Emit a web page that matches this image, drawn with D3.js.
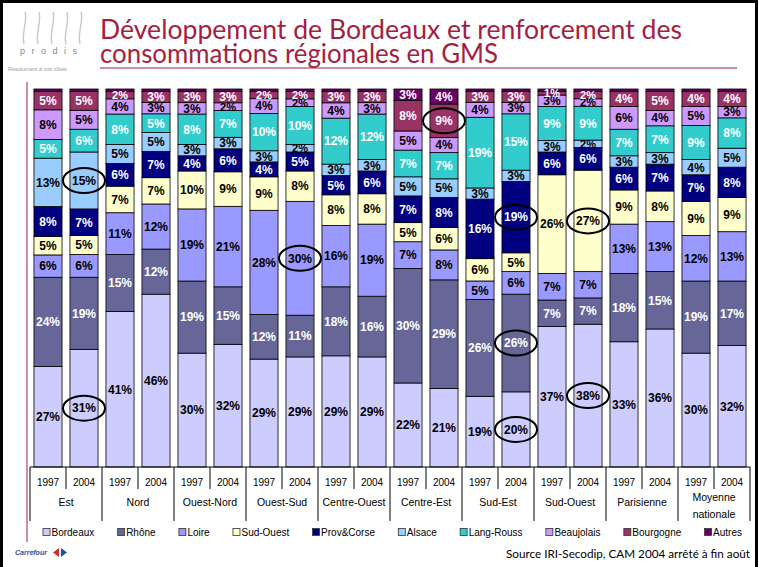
<!DOCTYPE html>
<html>
<head>
<meta charset="utf-8">
<script src="https://cdn.jsdelivr.net/npm/d3@7"></script>
<style>
body{margin:0;background:#fff;}
svg{display:block;font-family:"Liberation Sans",Arial,sans-serif;}
</style>
</head>
<body>
<div id="chartDiv"></div>
<script>
// categories
var regions = ["Est","Nord","Ouest-Nord","Ouest-Sud","Centre-Ouest","Centre-Est","Sud-Est","Sud-Ouest","Parisienne","Moyenne nationale"];
var years = ["1997","2004"];
var series = ["Bordeaux","Rhône","Loire","Sud-Ouest","Prov&Corse","Alsace","Lang-Rouss","Beaujolais","Bourgogne","Autres"];
var colors = ["#CCCCFF","#666699","#9999FF","#FFFFCC","#000080","#99CCFF","#33CCCC","#CC99FF","#993366","#660066"];
var darkText = ["Bordeaux","Loire","Sud-Ouest","Alsace","Beaujolais"];

// shares in % per bar (region x year, in order)
var bordeaux   = [27,31,41,46,30,32,29,29,29,29,22,21,19,20,37,38,33,36,30,32];
var rhone      = [24,19,15,12,19,15,12,11,18,16,30,29,26,26,7,7,18,15,19,17];
var loire      = [6,6,11,12,19,21,28,30,16,19,7,8,5,6,7,7,13,13,12,13];
var sudOuest   = [5,5,7,7,10,9,9,8,8,8,5,6,6,5,26,27,9,8,9,9];
var provCorse  = [8,7,6,7,4,6,4,5,5,6,7,8,16,19,6,6,6,7,7,8];
var alsace     = [13,15,5,5,3,3,3,2,3,3,5,5,3,3,3,2,3,3,4,5];
var langRouss  = [5,6,8,5,8,7,10,10,12,12,7,7,19,15,9,9,7,7,9,8];
var beaujolais = [8,5,4,3,3,2,4,2,4,3,5,4,4,3,3,2,6,4,5,3];
var bourgogne  = [5,5,2,3,3,3,2,2,3,3,8,9,3,3,1,2,4,5,4,4];
var autres     = [0.6,0.6,0.6,0.6,0.6,0.6,0.6,0.6,0.6,0.6,3,4,0.6,0.6,0.6,0.6,0.6,0.6,0.6,0.6];

// circled values: bar index + series
var highlights = [[1,"Alsace"],[1,"Bordeaux"],[7,"Loire"],[11,"Bourgogne"],[13,"Prov&Corse"],[13,"Rhône"],[13,"Bordeaux"],[15,"Sud-Ouest"],[15,"Bordeaux"]];

var swidth = 759, sheight = 567;
var red = "#A51E40";

var svg = d3.select("#chartDiv")
    .append("svg")
    .attr("width", swidth)
    .attr("height", sheight);

// slide frame
svg.append("rect")
    .attr("x", 1.5).attr("y", 1.5)
    .attr("width", 755).attr("height", 572)
    .attr("fill", "none").attr("stroke", "#000").attr("stroke-width", 3);

// prodis logo
var logo = svg.append("g").attr("fill", "none").attr("stroke", "#c8c8c8").attr("stroke-width", 1.4);
[24, 38, 52, 66, 80].forEach(function(lx){
    logo.append("path").attr("d", "M" + lx + ",44 C" + (lx - 3) + ",32 " + (lx + 4) + ",22 " + (lx + 1) + ",12");
});
svg.append("text").attr("x", 20).attr("y", 54)
    .attr("font-size", 9).attr("fill", "#888").attr("letter-spacing", 6.5)
    .text("prodis");
svg.append("text").attr("x", 8).attr("y", 71)
    .attr("font-size", 5.5).attr("fill", "#999")
    .text("Résolument à vos côtés");

// title
var title = svg.append("g")
    .attr("font-family", "Lato, 'DejaVu Sans', sans-serif")
    .attr("font-size", 26)
    .attr("fill", red);
title.append("text").attr("x", 100).attr("y", 39)
    .attr("textLength", 582).attr("lengthAdjust", "spacingAndGlyphs")
    .text("Développement de Bordeaux et renforcement des");
title.append("text").attr("x", 100).attr("y", 63)
    .attr("textLength", 398).attr("lengthAdjust", "spacingAndGlyphs")
    .text("consommations régionales en GMS");
svg.append("line").attr("x1", 100).attr("x2", 737).attr("y1", 68).attr("y2", 68)
    .attr("stroke", red).attr("stroke-width", 1.2);
svg.append("line").attr("x1", 27).attr("x2", 27).attr("y1", 82).attr("y2", 542)
    .attr("stroke", red).attr("stroke-width", 1);

// data rows
var valueLists = [bordeaux, rhone, loire, sudOuest, provCorse, alsace, langRouss, beaujolais, bourgogne, autres];
var bars = [];
regions.forEach(function(r){
    years.forEach(function(yr){
        bars.push({id: r + "|" + yr, region: r, year: yr});
    });
});
bars.forEach(function(b, i){
    series.forEach(function(s, j){ b[s] = valueLists[j][i]; });
});

var layers = d3.stack().keys(series).offset(d3.stackOffsetExpand)(bars);

var x = d3.scaleBand()
    .domain(bars.map(function(d){ return d.id; }))
    .range([30, 750])
    .paddingInner(0.22)
    .paddingOuter(0.11);
var y = d3.scaleLinear().domain([0, 1]).range([467, 89]);
var color = d3.scaleOrdinal().domain(series).range(colors);

var g = svg.append("g");
g.selectAll(".layer")
    .data(layers)
    .enter().append("g")
    .attr("class", "layer")
    .attr("fill", function(d){ return color(d.key); })
    .selectAll("rect")
    .data(function(d){ return d; })
    .enter().append("rect")
    .attr("x", function(d){ return x(d.data.id); })
    .attr("y", function(d){ return y(d[1]); })
    .attr("width", x.bandwidth())
    .attr("height", function(d){ return y(d[0]) - y(d[1]); })
    .attr("stroke", "#000")
    .attr("stroke-width", 0.8);

// value labels
var labels = [];
layers.forEach(function(layer){
    layer.forEach(function(d, i){
        var v = d.data[layer.key];
        if (v >= 1) labels.push({key: layer.key, bar: i, v: v, cx: x(d.data.id) + x.bandwidth() / 2, cy: (y(d[0]) + y(d[1])) / 2});
    });
});
g.selectAll(".val")
    .data(labels)
    .enter().append("text")
    .attr("class", "val")
    .attr("x", function(d){ return d.cx; })
    .attr("y", function(d){ return d.cy; })
    .attr("dy", "0.36em")
    .attr("text-anchor", "middle")
    .attr("font-size", function(d){ return d.v <= 2 ? 11 : 12; })
    .attr("font-weight", "bold")
    .attr("fill", function(d){ return darkText.indexOf(d.key) >= 0 ? "#000" : "#fff"; })
    .text(function(d){ return d.v + "%"; });

// circled values
var circled = labels.filter(function(d){
    return highlights.some(function(h){ return h[0] === d.bar && h[1] === d.key; });
});
g.selectAll(".ring")
    .data(circled)
    .enter().append("ellipse")
    .attr("cx", function(d){ return d.cx; })
    .attr("cy", function(d){ return d.cy; })
    .attr("rx", 21)
    .attr("ry", 12.5)
    .attr("fill", "none")
    .attr("stroke", "#000")
    .attr("stroke-width", 2);

// category axis (years + regions)
var axis = svg.append("g").attr("stroke", "#000").attr("stroke-width", 1);
var group = d3.scaleBand().domain(regions).range([30, 750]);
axis.append("line").attr("x1", 30).attr("x2", 750).attr("y1", 467).attr("y2", 467);
axis.selectAll(".gtick")
    .data(regions.concat([null]))
    .enter().append("line")
    .attr("x1", function(d, i){ return 30 + i * group.step(); })
    .attr("x2", function(d, i){ return 30 + i * group.step(); })
    .attr("y1", 467).attr("y2", 521);
axis.selectAll(".ytick")
    .data(regions)
    .enter().append("line")
    .attr("x1", function(d){ return group(d) + group.bandwidth() / 2; })
    .attr("x2", function(d){ return group(d) + group.bandwidth() / 2; })
    .attr("y1", 467).attr("y2", 489);

svg.selectAll(".yr")
    .data(bars)
    .enter().append("text")
    .attr("x", function(d){ return x(d.id) + x.bandwidth() / 2; })
    .attr("y", 486)
    .attr("text-anchor", "middle")
    .attr("font-size", 10)
    .text(function(d){ return d.year; });

svg.selectAll(".reg")
    .data(regions)
    .enter().append("text")
    .attr("x", function(d){ return group(d) + group.bandwidth() / 2; })
    .attr("y", function(d){ return d.indexOf(" ") > 0 ? 501 : 506; })
    .attr("text-anchor", "middle")
    .attr("font-size", 10.5)
    .each(function(d){
        var t = d3.select(this);
        d.split(" ").forEach(function(w, k){
            t.append("tspan").attr("x", group(d) + group.bandwidth() / 2).attr("dy", k ? 17 : 0).text(w);
        });
    });

// legend: items spread between 43 and 742
var items = series.map(function(s){
    var item = svg.append("g");
    item.append("rect").attr("x", 0).attr("y", -3.5).attr("width", 7).attr("height", 7)
        .attr("fill", color(s)).attr("stroke", "#333").attr("stroke-width", 0.8);
    var t = item.append("text").attr("x", 8.5).attr("y", 3.8).attr("font-size", 10).text(s);
    return {node: item, w: 8.5 + t.node().getComputedTextLength()};
});
var used = d3.sum(items, function(d){ return d.w; });
var gap = (742 - 43 - used) / (items.length - 1);
var lx = 43;
items.forEach(function(d){
    d.node.attr("transform", "translate(" + lx + ",532)");
    lx += d.w + gap;
});

// footer
var cf = svg.append("g").attr("transform", "translate(15,555)");
cf.append("text").attr("x", 0).attr("y", 0)
    .attr("font-size", 7).attr("font-weight", "bold").attr("font-style", "italic")
    .attr("fill", "#1F4FA0").text("Carrefour");
cf.append("path").attr("d", "M44,-7 L38,-2.5 L44,2 Z").attr("fill", "#D52B2B");
cf.append("path").attr("d", "M46,-7 L52,-2.5 L46,2 Z").attr("fill", "#1F4FA0");

svg.append("text")
    .attr("x", 750).attr("y", 558)
    .attr("text-anchor", "end")
    .attr("font-family", "Lato, 'DejaVu Sans', sans-serif")
    .attr("font-size", 11.5)
    .attr("textLength", 244).attr("lengthAdjust", "spacingAndGlyphs")
    .text("Source IRI-Secodip, CAM 2004 arrêté à fin août");
</script>
</body>
</html>
